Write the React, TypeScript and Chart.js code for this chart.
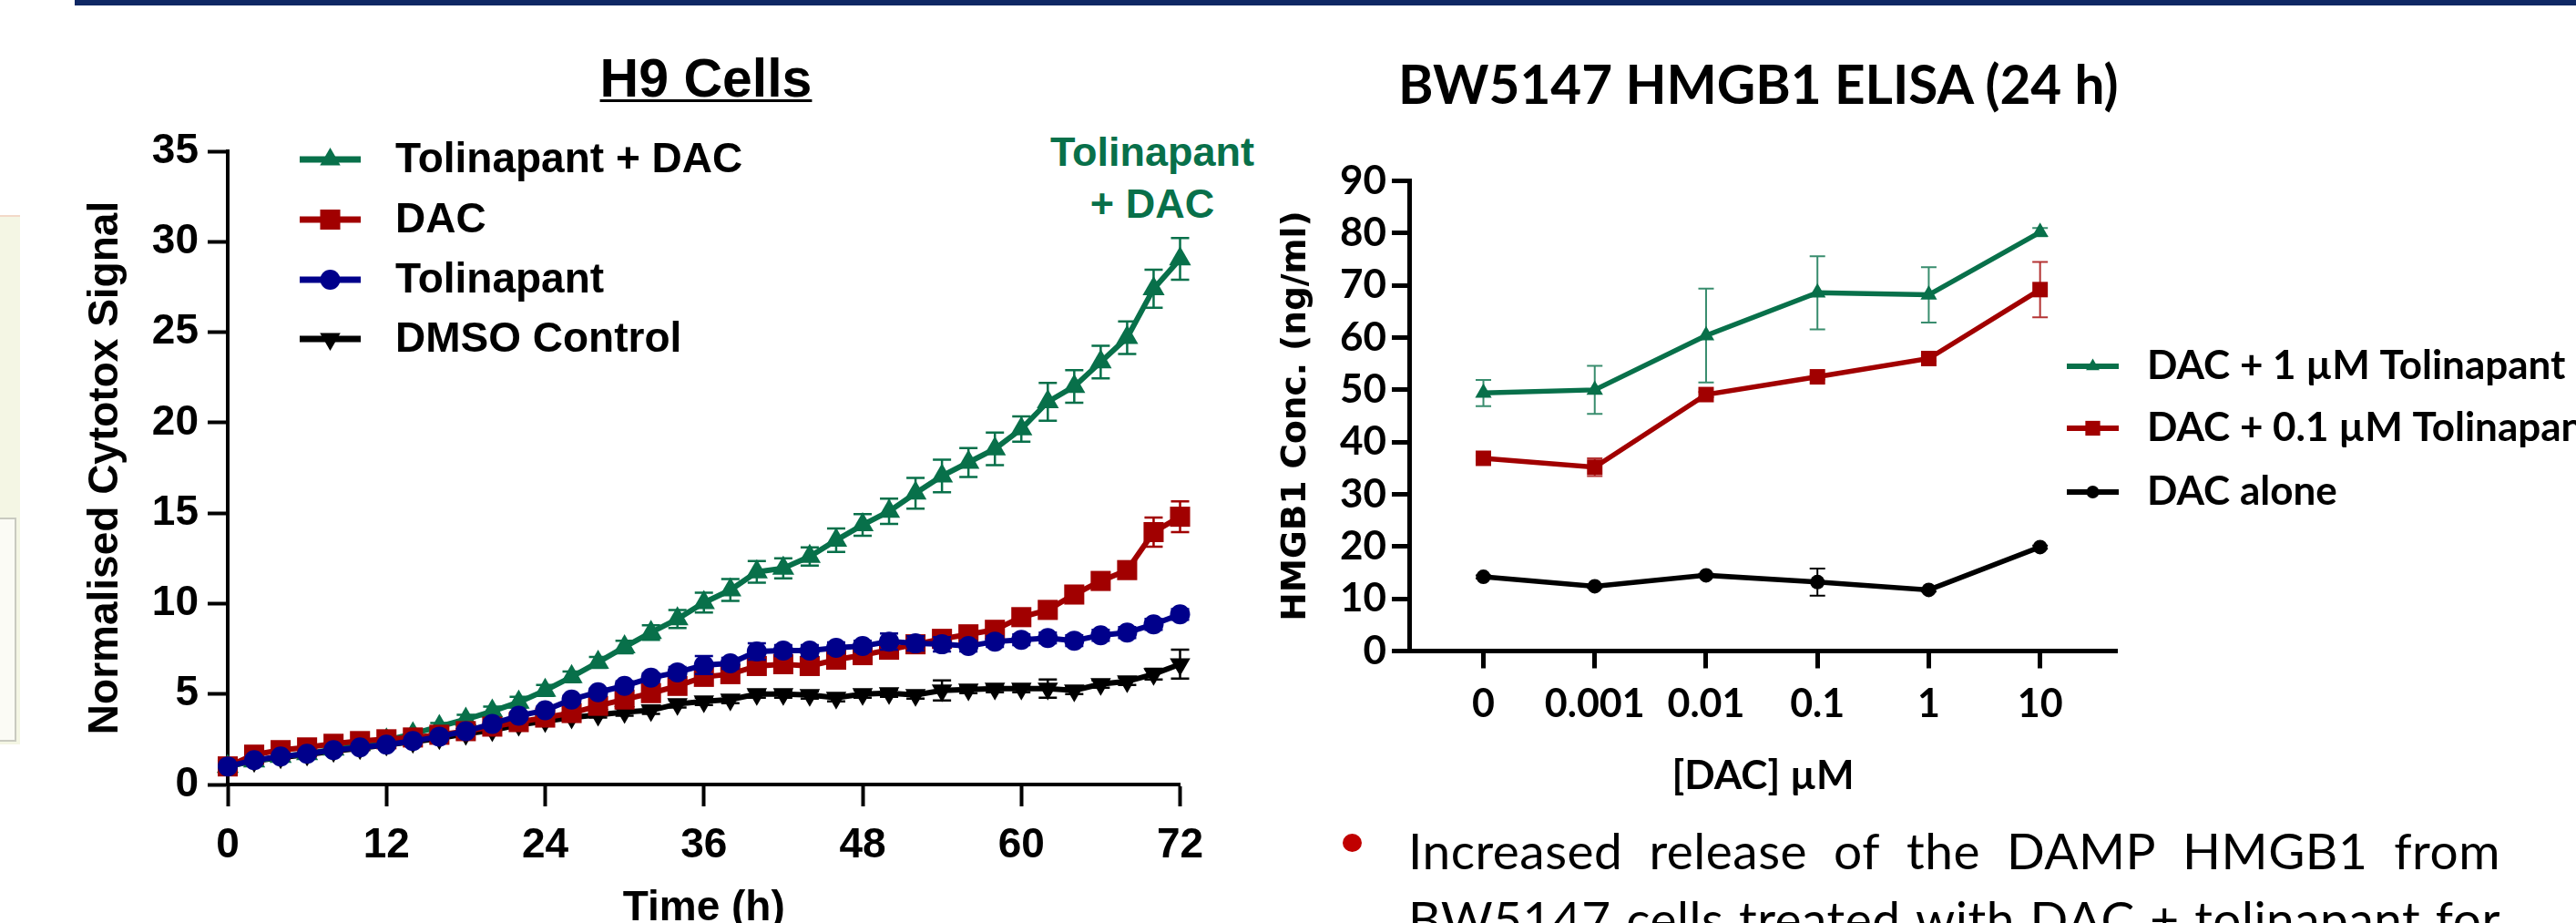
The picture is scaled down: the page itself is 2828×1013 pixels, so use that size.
import React, { useEffect, useRef } from 'react';
import { Chart, registerables } from 'chart.js';

Chart.register(...registerables);

// ---------------- H9 Cells: Cytotox signal over time ----------------
const timeHours = [0, 2, 4, 6, 8, 10, 12, 14, 16, 18, 20, 22, 24, 26, 28, 30, 32, 34, 36, 38, 40, 42, 44, 46, 48, 50, 52, 54, 56, 58, 60, 62, 64, 66, 68, 70, 72];
const timeTicks = [0, 12, 24, 36, 48, 60, 72];
const cytotoxTicks = [0, 5, 10, 15, 20, 25, 30, 35];

const tolDacValues = [1.0, 1.3, 1.55, 1.7, 1.95, 2.2, 2.45, 2.8, 3.2, 3.6, 4.05, 4.55, 5.2, 5.95, 6.75, 7.6, 8.4, 9.15, 10.05, 10.75, 11.75, 11.95, 12.6, 13.5, 14.35, 15.1, 16.1, 17.05, 17.8, 18.55, 19.65, 21.15, 22.0, 23.35, 24.7, 27.4, 29.05];
const tolDacErrors = [0.05, 0.1, 0.1, 0.1, 0.1, 0.15, 0.15, 0.2, 0.2, 0.25, 0.25, 0.3, 0.3, 0.3, 0.3, 0.35, 0.4, 0.5, 0.55, 0.6, 0.6, 0.55, 0.5, 0.65, 0.6, 0.7, 0.85, 0.9, 0.8, 0.9, 0.7, 1.05, 0.9, 0.9, 0.9, 1.05, 1.15];

const dacValues = [1.0, 1.65, 1.9, 2.05, 2.25, 2.4, 2.5, 2.6, 2.75, 2.95, 3.2, 3.45, 3.7, 3.95, 4.35, 4.7, 5.05, 5.45, 5.95, 6.1, 6.55, 6.65, 6.55, 6.9, 7.15, 7.45, 7.75, 8.05, 8.3, 8.55, 9.25, 9.65, 10.5, 11.25, 11.85, 13.95, 14.8];
const dacErrors = [0.1, 0.1, 0.1, 0.1, 0.1, 0.1, 0.15, 0.15, 0.15, 0.15, 0.2, 0.2, 0.2, 0.2, 0.2, 0.2, 0.25, 0.25, 0.25, 0.25, 0.3, 0.3, 0.3, 0.3, 0.3, 0.3, 0.3, 0.3, 0.3, 0.3, 0.35, 0.35, 0.35, 0.4, 0.4, 0.8, 0.85];

const tolValues = [1.0, 1.35, 1.55, 1.7, 1.9, 2.05, 2.2, 2.4, 2.65, 2.95, 3.35, 3.8, 4.1, 4.7, 5.1, 5.45, 5.9, 6.2, 6.6, 6.7, 7.35, 7.4, 7.4, 7.55, 7.65, 7.9, 7.8, 7.75, 7.65, 7.9, 8.0, 8.1, 7.95, 8.25, 8.4, 8.85, 9.4];
const tolErrors = [0.1, 0.1, 0.1, 0.1, 0.1, 0.1, 0.1, 0.15, 0.15, 0.15, 0.2, 0.2, 0.2, 0.2, 0.2, 0.25, 0.25, 0.3, 0.5, 0.3, 0.45, 0.3, 0.3, 0.3, 0.3, 0.45, 0.4, 0.4, 0.3, 0.3, 0.3, 0.3, 0.3, 0.3, 0.3, 0.3, 0.3];

const dmsoValues = [1.0, 1.3, 1.5, 1.65, 1.85, 2.0, 2.2, 2.35, 2.55, 2.8, 3.0, 3.3, 3.5, 3.7, 3.85, 4.0, 4.1, 4.45, 4.6, 4.7, 5.0, 5.0, 4.95, 4.8, 5.0, 5.05, 4.95, 5.2, 5.25, 5.3, 5.3, 5.3, 5.2, 5.55, 5.7, 6.1, 6.65];
const dmsoErrors = [0.1, 0.1, 0.1, 0.1, 0.1, 0.1, 0.1, 0.1, 0.1, 0.1, 0.15, 0.15, 0.15, 0.15, 0.15, 0.2, 0.2, 0.2, 0.2, 0.2, 0.2, 0.2, 0.2, 0.2, 0.2, 0.2, 0.2, 0.55, 0.2, 0.2, 0.2, 0.5, 0.2, 0.2, 0.2, 0.3, 0.8];

// ---------------- BW5147 HMGB1 ELISA (24 h) ----------------
const doseLabels = ['0', '0.001', '0.01', '0.1', '1', '10'];
const doseIndex = [0, 1, 2, 3, 4, 5];
const hmgbTicks = [0, 10, 20, 30, 40, 50, 60, 70, 80, 90];
const tol1Values = [49.4, 50.0, 60.4, 68.6, 68.2, 80.2];
const tol1Errors = [2.5, 4.6, 9.0, 7.0, 5.3, 0.8];
const tol01Values = [36.9, 35.2, 49.1, 52.5, 56.0, 69.2];
const tol01Errors = [0.5, 1.7, 0.5, 0.5, 0.5, 5.3];
const dacAloneValues = [14.2, 12.4, 14.5, 13.2, 11.7, 19.9];
const dacAloneErrors = [0.3, 0.3, 0.3, 2.6, 0.3, 0.3];

const bulletLines = [
  'Increased release of the DAMP HMGB1 from',
  'BW5147 cells treated with DAC + tolinapant for',
];

const GREEN = '#08704a';
const RED = '#a10000';
const BLUE = '#00008b';
const BLACK = '#000000';

const ARIAL = "'Liberation Sans', Arial, sans-serif";
const CALIBRI = "Lato, 'Open Sans', sans-serif";
const VERDANA = "'DejaVu Sans', Verdana, sans-serif";

function drawMarker(ctx: CanvasRenderingContext2D, style: string, x: number, y: number, r: number, rotation: number, color: string) {
  ctx.save();
  ctx.fillStyle = color;
  ctx.beginPath();
  if (style === 'circle') {
    ctx.arc(x, y, r, 0, Math.PI * 2);
  } else if (style === 'rect') {
    const s = r * Math.SQRT1_2;
    ctx.rect(x - s, y - s, 2 * s, 2 * s);
  } else {
    let rad = (rotation * Math.PI) / 180;
    ctx.moveTo(x + Math.sin(rad) * r, y - Math.cos(rad) * r);
    rad += (2 * Math.PI) / 3;
    ctx.lineTo(x + Math.sin(rad) * r, y - Math.cos(rad) * r);
    rad += (2 * Math.PI) / 3;
    ctx.lineTo(x + Math.sin(rad) * r, y - Math.cos(rad) * r);
    ctx.closePath();
  }
  ctx.fill();
  ctx.restore();
}

function makeErrorBarPlugin(lineWidth: number, capHalf: number) {
  return {
    id: 'errorBars',
    beforeDatasetDraw(chart: any, args: any) {
      const ds = chart.data.datasets[args.index];
      const errs: number[] | undefined = ds.errorBars;
      if (!errs) return;
      const meta = args.meta;
      const yScale = chart.scales[meta.yAxisID];
      const ctx: CanvasRenderingContext2D = chart.ctx;
      ctx.save();
      ctx.strokeStyle = ds.errorColor || ds.borderColor;
      ctx.lineWidth = lineWidth;
      meta.data.forEach((pt: any, i: number) => {
        const e = errs[i];
        if (!e) return;
        const v = ds.data[i].y;
        const x = pt.x;
        const yTop = yScale.getPixelForValue(v + e);
        const yBot = yScale.getPixelForValue(v - e);
        ctx.beginPath();
        ctx.moveTo(x, yTop);
        ctx.lineTo(x, yBot);
        ctx.moveTo(x - capHalf, yTop);
        ctx.lineTo(x + capHalf, yTop);
        ctx.moveTo(x - capHalf, yBot);
        ctx.lineTo(x + capHalf, yBot);
        ctx.stroke();
      });
      ctx.restore();
    },
  };
}

type KeyItem = { label: string; color: string; style: string; radius: number; rotation: number };
function makeKeyPlugin(items: KeyItem[], rowY: number[], x1: number, x2: number, textX: number, font: string, lineWidth: number, textDy: number) {
  return {
    id: 'seriesKey',
    afterDraw(chart: any) {
      const ctx: CanvasRenderingContext2D = chart.ctx;
      ctx.save();
      items.forEach((it, i) => {
        const y = rowY[i];
        ctx.strokeStyle = it.color;
        ctx.lineWidth = lineWidth;
        ctx.beginPath();
        ctx.moveTo(x1, y);
        ctx.lineTo(x2, y);
        ctx.stroke();
        drawMarker(ctx, it.style, (x1 + x2) / 2, y, it.radius, it.rotation, it.color);
        ctx.fillStyle = '#000';
        ctx.font = font;
        ctx.textAlign = 'left';
        ctx.textBaseline = 'middle';
        ctx.fillText(it.label, textX, y + textDy);
      });
      ctx.restore();
    },
  };
}

function toPoints(xs: number[], ys: number[]) {
  return ys.map((y, i) => ({ x: xs[i], y }));
}

function leftConfig(): any {
  const ds = (label: string, values: number[], errors: number[], color: string, style: string, radius: number, rotation: number, order: number) => ({
    label,
    data: toPoints(timeHours, values),
    borderColor: color,
    backgroundColor: color,
    pointBackgroundColor: color,
    pointBorderWidth: 0,
    pointStyle: style,
    pointRadius: radius,
    pointRotation: rotation,
    borderWidth: 6,
    tension: 0,
    clip: false,
    order,
    errorBars: errors,
  });
  const datasets = [
    ds('Tolinapant + DAC', tolDacValues, tolDacErrors, GREEN, 'triangle', 14, 0, 2),
    ds('DAC', dacValues, dacErrors, RED, 'rect', 15.6, 0, 1),
    ds('Tolinapant', tolValues, tolErrors, BLUE, 'circle', 11, 0, 0),
    ds('DMSO Control', dmsoValues, dmsoErrors, BLACK, 'triangle', 13, 180, 3),
  ];
  const keyItems: KeyItem[] = [
    { label: 'Tolinapant + DAC', color: GREEN, style: 'triangle', radius: 13, rotation: 0 },
    { label: 'DAC', color: RED, style: 'rect', radius: 15.6, rotation: 0 },
    { label: 'Tolinapant', color: BLUE, style: 'circle', radius: 11, rotation: 0 },
    { label: 'DMSO Control', color: BLACK, style: 'triangle', radius: 13, rotation: 180 },
  ];
  return {
    type: 'line',
    data: { datasets },
    options: {
      responsive: false,
      animation: false,
      events: [],
      layout: { padding: { left: 60, top: 166, right: 1532.5, bottom: 60 } },
      plugins: { legend: { display: false }, tooltip: { enabled: false }, title: { display: false } },
      scales: {
        x: {
          type: 'linear',
          min: 0,
          max: 72,
          afterBuildTicks: (s: any) => { s.ticks = timeTicks.map((v) => ({ value: v })); },
          afterFit: (s: any) => { s.height = 179; },
          border: { display: true, color: '#000', width: 4 },
          grid: { drawOnChartArea: false, drawTicks: true, tickLength: 24, tickWidth: 4, tickColor: '#000' },
          ticks: { color: '#000', font: { family: ARIAL, size: 46, weight: 'bold' }, padding: 16, maxRotation: 0, autoSkip: false, callback: (v: any) => String(v) },
          title: { display: true, text: 'Time (h)', color: '#000', font: { family: ARIAL, size: 46, weight: 'bold' }, padding: { top: 0, bottom: 15 } },
        },
        y: {
          type: 'linear',
          min: 0,
          max: 35,
          afterBuildTicks: (s: any) => { s.ticks = cytotoxTicks.map((v) => ({ value: v })); },
          afterFit: (s: any) => { s.width = 190; },
          border: { display: true, color: '#000', width: 4 },
          grid: { drawOnChartArea: false, drawTicks: true, tickLength: 22, tickWidth: 4, tickColor: '#000' },
          ticks: { color: '#000', font: { family: ARIAL, size: 46, weight: 'bold' }, padding: 10, callback: (v: any) => String(v) },
          title: { display: true, text: 'Normalised Cytotox Signal', color: '#000', font: { family: ARIAL, size: 46, weight: 'bold' }, padding: { top: 29, bottom: 0 } },
        },
      },
    },
    plugins: [
      makeErrorBarPlugin(2.5, 10),
      makeKeyPlugin(keyItems, [175, 241, 307, 372], 329, 396, 434, `bold 46px ${ARIAL}`, 7, 1),
    ],
  };
}

function rightConfig(): any {
  const ds = (label: string, values: number[], errors: number[], color: string, errColor: string, style: string, radius: number) => ({
    label,
    data: toPoints(doseIndex, values),
    borderColor: color,
    backgroundColor: color,
    pointBackgroundColor: color,
    pointBorderWidth: 0,
    pointStyle: style,
    pointRadius: radius,
    borderWidth: 5.5,
    tension: 0,
    clip: false,
    errorBars: errors,
    errorColor: errColor,
  });
  const datasets = [
    ds('DAC + 1 µM Tolinapant', tol1Values, tol1Errors, GREEN, 'rgba(8,112,74,0.8)', 'triangle', 10.5),
    ds('DAC + 0.1 µM Tolinapant', tol01Values, tol01Errors, RED, 'rgba(161,0,0,0.8)', 'rect', 12),
    ds('DAC alone', dacAloneValues, dacAloneErrors, BLACK, BLACK, 'circle', 8),
  ];
  const keyItems: KeyItem[] = [
    { label: 'DAC + 1 µM Tolinapant', color: GREEN, style: 'triangle', radius: 8.5, rotation: 0 },
    { label: 'DAC + 0.1 µM Tolinapant', color: RED, style: 'rect', radius: 11.5, rotation: 0 },
    { label: 'DAC alone', color: BLACK, style: 'circle', radius: 7, rotation: 0 },
  ];
  return {
    type: 'line',
    data: { datasets },
    options: {
      responsive: false,
      animation: false,
      events: [],
      layout: { padding: { left: 1397, top: 198.6, right: 504, bottom: 185.5 } },
      plugins: { legend: { display: false }, tooltip: { enabled: false }, title: { display: false } },
      scales: {
        x: {
          type: 'linear',
          min: -0.667,
          max: 5.69,
          afterBuildTicks: (s: any) => { s.ticks = doseIndex.map((v) => ({ value: v })); },
          afterFit: (s: any) => { s.height = 200; },
          border: { display: true, color: '#000', width: 5 },
          grid: { drawOnChartArea: false, drawTicks: true, tickLength: 19, tickWidth: 5, tickColor: '#000' },
          ticks: { color: '#000', font: { family: CALIBRI, size: 43, weight: 'bold' }, padding: 14, maxRotation: 0, autoSkip: false, callback: (v: any) => doseLabels[v] ?? '' },
          title: { display: true, text: '[DAC] µM', color: '#000', font: { family: CALIBRI, size: 44, weight: 'bold' }, padding: { top: 0, bottom: 36 } },
        },
        y: {
          type: 'linear',
          min: 0,
          max: 90,
          afterBuildTicks: (s: any) => { s.ticks = hmgbTicks.map((v) => ({ value: v })); },
          afterFit: (s: any) => { s.width = 150; },
          border: { display: true, color: '#000', width: 5 },
          grid: { drawOnChartArea: false, drawTicks: true, tickLength: 19, tickWidth: 5, tickColor: '#000' },
          ticks: { color: '#000', font: { family: CALIBRI, size: 44, weight: 'bold' }, padding: 6, callback: (v: any) => String(v) },
          title: { display: true, text: 'HMGB1 Conc. (ng/ml)', color: '#000', font: { family: VERDANA, size: 37.5, weight: 'bold' }, padding: { top: 4, bottom: 0 } },
        },
      },
    },
    plugins: [
      makeErrorBarPlugin(2, 8.5),
      makeKeyPlugin(keyItems, [402, 470, 540], 2269, 2326, 2357, `bold 44px ${CALIBRI}`, 6, 0),
    ],
  };
}

function JustifiedLine({ text, top }: { text: string; top: number }) {
  const words = text.split(' ');
  return (
    <div style={{ position: 'absolute', left: 1546, top, width: 1199, display: 'flex', justifyContent: 'space-between', fontFamily: CALIBRI, fontSize: 55, letterSpacing: '0.5px', lineHeight: '75px', color: '#000', whiteSpace: 'nowrap' }}>
      {words.map((w, i) => (
        <span key={i}>{w}</span>
      ))}
    </div>
  );
}

export default function App() {
  const leftRef = useRef<HTMLCanvasElement>(null);
  const rightRef = useRef<HTMLCanvasElement>(null);

  useEffect(() => {
    const c1 = new Chart(leftRef.current as HTMLCanvasElement, leftConfig());
    const c2 = new Chart(rightRef.current as HTMLCanvasElement, rightConfig());
    return () => {
      c1.destroy();
      c2.destroy();
    };
  }, []);

  return (
    <div style={{ position: 'absolute', left: 0, top: 0, width: 2828, height: 1013, overflow: 'hidden', background: '#ffffff' }}>
      {/* top rule */}
      <div style={{ position: 'absolute', left: 82, top: 0, width: 2746, height: 6, background: '#0f2864' }} />
      {/* cropped panel at far left */}
      <div style={{ position: 'absolute', left: 0, top: 236, width: 22, height: 579, background: '#f4f6e4', borderTop: '2px solid #f3d9c8' }} />
      <div style={{ position: 'absolute', left: -4, top: 568, width: 18, height: 242, background: '#fbfbf5', border: '2px solid #c9cac0' }} />

      {/* H9 Cells title */}
      <div style={{ position: 'absolute', left: 575, top: 56.7, width: 400, textAlign: 'center', fontFamily: ARIAL, fontWeight: 'bold', fontSize: 59, lineHeight: '59px', color: '#000', textDecoration: 'underline', textDecorationThickness: '3px', textUnderlineOffset: '3px', whiteSpace: 'nowrap' }}>H9 Cells</div>

      {/* green annotation */}
      <div style={{ position: 'absolute', left: 1115, top: 139.4, width: 300, textAlign: 'center', fontFamily: ARIAL, fontWeight: 'bold', fontSize: 45, lineHeight: '56.7px', color: GREEN, whiteSpace: 'nowrap' }}>
        <div>Tolinapant</div>
        <div>+ DAC</div>
      </div>

      {/* BW5147 title */}
      <div style={{ position: 'absolute', left: 1535, top: 61.5, fontFamily: CALIBRI, fontWeight: 'bold', fontSize: 58.5, lineHeight: '58.5px', color: '#000', whiteSpace: 'nowrap' }}>BW5147 HMGB1 ELISA (24 h)</div>

      {/* bullet text */}
      <div style={{ position: 'absolute', left: 1474, top: 915, width: 21, height: 20, borderRadius: '50%', background: '#c00000' }} />
      <JustifiedLine text={bulletLines[0]} top={896} />
      <JustifiedLine text={bulletLines[1]} top={971} />

      <canvas ref={leftRef} width={2828} height={1100} style={{ position: 'absolute', left: 0, top: 0 }} />
      <canvas ref={rightRef} width={2828} height={1100} style={{ position: 'absolute', left: 0, top: 0 }} />
    </div>
  );
}
